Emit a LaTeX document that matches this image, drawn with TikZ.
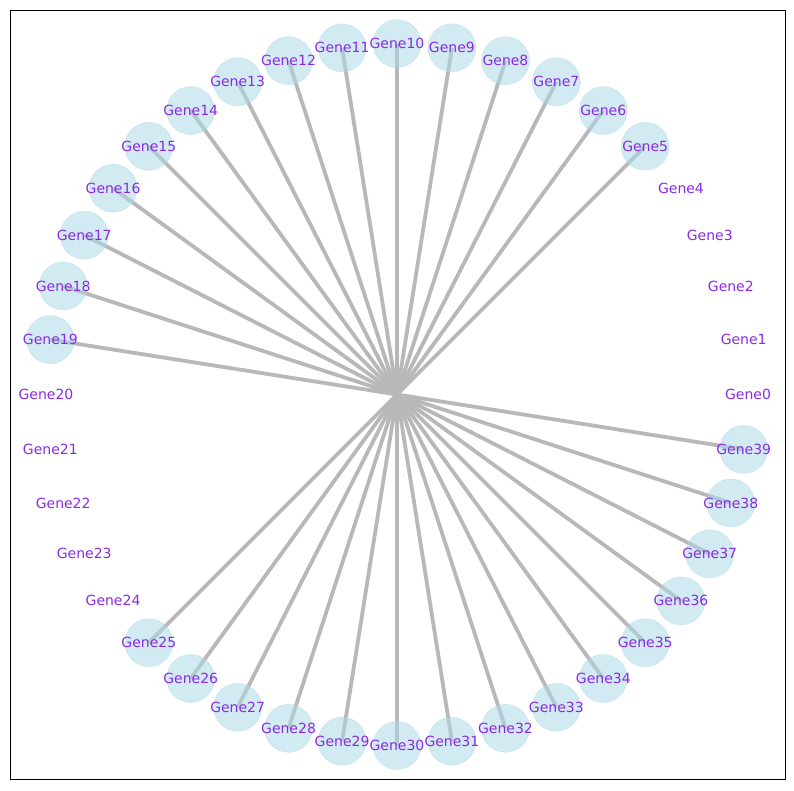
\documentclass[tikz,border=0pt]{standalone}
\usepackage{fontspec}
\setmainfont{DejaVu Sans}
\usetikzlibrary{calc}
\definecolor{lblue}{RGB}{173,216,230}
\definecolor{lbl}{RGB}{138,43,226}
\definecolor{edg}{RGB}{184,184,184}
\begin{document}
\begin{tikzpicture}[x=1pt,y=-1pt,
  gnode/.style={circle,minimum size=48pt,inner sep=0pt,fill=lblue,fill opacity=0.55,draw=lblue,draw opacity=0.6,text opacity=1,text=lbl,font=\fontsize{14}{16}\selectfont},
  glabel/.style={inner sep=0pt,text=lbl,font=\fontsize{14}{16}\selectfont},
  edge/.style={draw=edg,line width=3.8pt}]
\useasboundingbox (0,0) rectangle (794,790);
\draw[line width=1pt] (10,10) rectangle (785,779);
\coordinate (c) at (397,394.5);
\foreach \i in {5,...,19}{
  \coordinate (p\i) at ($(c)+({351*cos(9*\i)},{-351*sin(9*\i)})$);
  \draw[edge] (c) -- (p\i);
}
\foreach \i in {25,...,39}{
  \coordinate (p\i) at ($(c)+({351*cos(9*\i)},{-351*sin(9*\i)})$);
  \draw[edge] (c) -- (p\i);
}
\foreach \i in {5,...,19}{
  \node[gnode] (g\i) at (p\i) {\makebox[0pt]{Gene\i}};
}
\foreach \i in {25,...,39}{
  \node[gnode] (g\i) at (p\i) {\makebox[0pt]{Gene\i}};
}
\foreach \i in {0,...,4}{
  \node[glabel] (l\i) at ($(c)+({351*cos(9*\i)},{-351*sin(9*\i)})$) {Gene\i};
}
\foreach \i in {20,...,24}{
  \node[glabel] (l\i) at ($(c)+({351*cos(9*\i)},{-351*sin(9*\i)})$) {Gene\i};
}
\end{tikzpicture}
\end{document}
